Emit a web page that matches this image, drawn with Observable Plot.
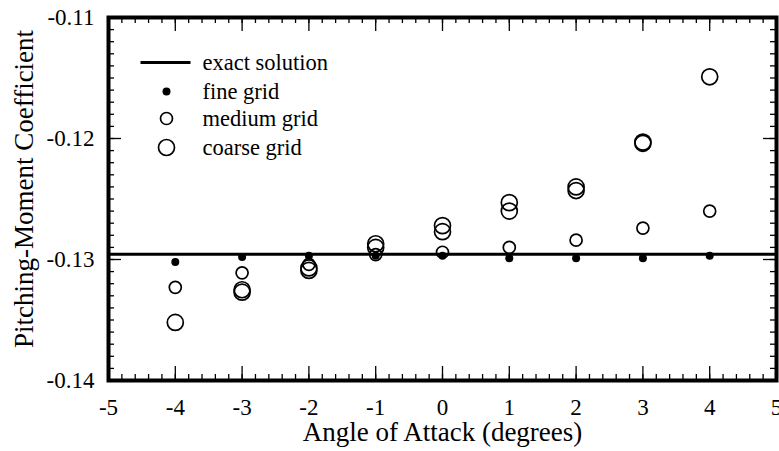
<!DOCTYPE html>
<html><head><meta charset="utf-8">
<script src="https://cdn.jsdelivr.net/npm/d3@7"></script>
<script src="https://cdn.jsdelivr.net/npm/@observablehq/plot@0.6"></script>
<style>html,body{margin:0;padding:0;background:#fff} svg{display:block}</style>
</head><body><div id="chart"></div>
<script>
// ---- data ----
const angles = [-4, -3, -2, -1, 0, 1, 2, 3, 4];
const fineGrid   = [-0.1302, -0.1298, -0.1297, -0.1297, -0.1297, -0.1299, -0.1299, -0.1299, -0.1297];
const mediumGrid = [-0.1323, -0.1311, -0.1304, -0.1296, -0.1294, -0.1290, -0.1284, -0.1274, -0.1260];
const coarseGridA = [-0.1352, -0.1325, -0.1307, -0.1287, -0.1272, -0.1253, -0.1240, -0.1203, -0.1149];
const coarseGridB = [null, -0.1327, -0.1309, -0.1290, -0.1277, -0.1260, -0.1243, -0.1204, null];
const exactSolution = -0.12957;
const xTicks = [-5, -4, -3, -2, -1, 0, 1, 2, 3, 4, 5];
const yTicks = [-0.14, -0.13, -0.12, -0.11];
const legendLabels = ["exact solution", "fine grid", "medium grid", "coarse grid"];
const xLabel = "Angle of Attack (degrees)";
const yLabel = "Pitching-Moment Coefficient";

// ---- layout ----
const W = 779, H = 451, mL = 108, mR = 3, mT = 17, mB = 71;
const innerW = W - mL - mR, innerH = H - mT - mB;
const xMinor = d3.range(-5, 5.0001, 0.2).map(v => +v.toFixed(1));
const yMinor = d3.range(-0.14, -0.10999, 0.001).map(v => +v.toFixed(3));

const rows = (arr) => angles.map((a, i) => ({angle: a, value: arr[i]})).filter(d => d.value != null);
const fine = rows(fineGrid), medium = rows(mediumGrid);
const coarse = rows(coarseGridA).concat(rows(coarseGridB));

const lineSymbol = {draw(ctx) { ctx.moveTo(-25, 0); ctx.lineTo(25, 0); }};
const font = "'Liberation Serif', 'Times New Roman', serif";
const tickW = 1.3;
const circW = 1.7;

const chart = Plot.plot({
  width: W, height: H,
  marginLeft: mL, marginRight: mR, marginTop: mT, marginBottom: mB,
  style: {fontFamily: font, fontSize: "23px", background: "#fff", color: "#000"},
  x: {domain: [-5, 5]},
  y: {domain: [-0.14, -0.11]},
  marks: [
    // minor/major ticks inside frame (bottom, top, left, right)
    Plot.ruleX(xMinor, {insetTop: innerH - 6, stroke: "#000", strokeWidth: tickW}),
    Plot.ruleX(xMinor, {insetBottom: innerH - 6, stroke: "#000", strokeWidth: tickW}),
    Plot.ruleX(xTicks, {insetTop: innerH - 14, stroke: "#000", strokeWidth: tickW}),
    Plot.ruleX(xTicks, {insetBottom: innerH - 14, stroke: "#000", strokeWidth: tickW}),
    Plot.ruleY(yMinor, {insetRight: innerW - 6, stroke: "#000", strokeWidth: tickW}),
    Plot.ruleY(yMinor, {insetLeft: innerW - 6, stroke: "#000", strokeWidth: tickW}),
    Plot.ruleY(yTicks, {insetRight: innerW - 13, stroke: "#000", strokeWidth: tickW}),
    Plot.ruleY(yTicks, {insetLeft: innerW - 13, stroke: "#000", strokeWidth: tickW}),
    // exact solution
    Plot.ruleY([exactSolution], {stroke: "#000", strokeWidth: 3}),
    // data
    Plot.dot(coarse, {x: "angle", y: "value", r: 8, stroke: "#000", strokeWidth: circW, fill: "none"}),
    Plot.dot(medium, {x: "angle", y: "value", r: 6, stroke: "#000", strokeWidth: circW, fill: "none"}),
    Plot.dot(fine, {x: "angle", y: "value", r: 4, fill: "#000", stroke: null}),
    // frame
    Plot.frame({stroke: "#000", strokeWidth: 4}),
    // axes labels
    Plot.axisX({ticks: xTicks, tickSize: 0, tickPadding: 18, tickFormat: d => String(d), label: null}),
    Plot.axisY({ticks: yTicks, tickSize: 0, tickPadding: 14, tickFormat: d => d.toFixed(2), label: null}),
    Plot.text([xLabel], {frameAnchor: "bottom", lineAnchor: "middle", textAnchor: "middle", dy: 52, fontSize: 27, text: d => d}),
    Plot.text([yLabel], {frameAnchor: "left", lineAnchor: "middle", textAnchor: "middle", dx: -84, dy: -10, rotate: -90, fontSize: 27, text: d => d}),
    // legend
    Plot.dot([0], {frameAnchor: "top-left", dx: 57, dy: 45, symbol: lineSymbol, stroke: "#000", strokeWidth: 3, fill: "none"}),
    Plot.dot([0], {frameAnchor: "top-left", dx: 58, dy: 74, r: 4, fill: "#000", stroke: null}),
    Plot.dot([0], {frameAnchor: "top-left", dx: 58, dy: 101, r: 6, stroke: "#000", strokeWidth: circW, fill: "none"}),
    Plot.dot([0], {frameAnchor: "top-left", dx: 58, dy: 130, r: 8, stroke: "#000", strokeWidth: circW, fill: "none"}),
    Plot.text([legendLabels[0]], {frameAnchor: "top-left", lineAnchor: "middle", dx: 94, dy: 45, textAnchor: "start", fontSize: 22.5, text: d => d}),
    Plot.text([legendLabels[1]], {frameAnchor: "top-left", lineAnchor: "middle", dx: 94, dy: 74, textAnchor: "start", fontSize: 22.5, text: d => d}),
    Plot.text([legendLabels[2]], {frameAnchor: "top-left", lineAnchor: "middle", dx: 94, dy: 101, textAnchor: "start", fontSize: 22.5, text: d => d}),
    Plot.text([legendLabels[3]], {frameAnchor: "top-left", lineAnchor: "middle", dx: 94, dy: 130, textAnchor: "start", fontSize: 22.5, text: d => d})
  ]
});
document.getElementById("chart").appendChild(chart);
</script>
</body></html>
